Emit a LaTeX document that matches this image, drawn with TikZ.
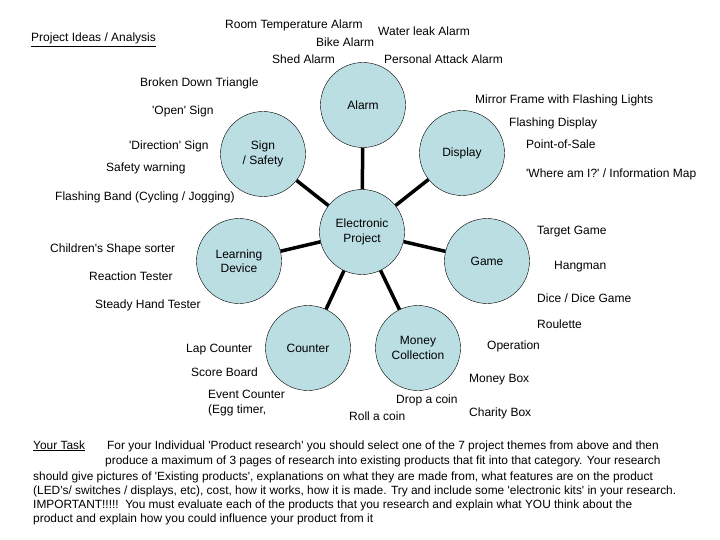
\documentclass[tikz,border=0pt]{standalone}
\usepackage{fontspec}
\setmainfont{Liberation Sans}
\usepackage{xcolor}
\definecolor{topicblue}{RGB}{187,222,227}
\newcommand{\sq}{\textquotesingle}

\begin{document}
\begin{tikzpicture}[x=1pt, y=-1pt,
  topic/.style={circle, draw, thin, fill=topicblue, minimum size=85pt, inner sep=0pt,
    align=center, font=\fontsize{12}{14.5}\selectfont},
  idea/.style={anchor=base west, inner sep=0pt, font=\fontsize{12}{14}\selectfont},
  task/.style={anchor=base west, inner sep=0pt, font=\fontsize{11.9}{14}\selectfont},
  link/.style={line width=3.5pt}]
  \useasboundingbox (0,0) rectangle (720,540);

  % Topic circles
  \node[topic] (project) at (362,232) {Electronic\\Project};
  \node[topic] (alarm) at (363,105) {Alarm};
  \node[topic] (sign) at (263,154) {Sign\\/ Safety};
  \node[topic] (display) at (462,153) {Display};
  \node[topic] (learning) at (239,261) {Learning\\Device};
  \node[topic] (game) at (487,261) {Game};
  \node[topic] (counter) at (308,348) {Counter};
  \node[topic] (money) at (418,348) {Money\\Collection};

  \draw[link] (project) -- (alarm);
  \draw[link] (project) -- (sign);
  \draw[link] (project) -- (display);
  \draw[link] (project) -- (learning);
  \draw[link] (project) -- (game);
  \draw[link] (project) -- (counter);
  \draw[link] (project) -- (money);

  % Title
  \node[idea] (title) at (31,42) {\underline{Project Ideas / Analysis}};

  % Alarm ideas
  \node[idea] (roomtemp) at (225,29) {Room Temperature Alarm};
  \node[idea] (waterleak) at (378,36) {Water leak Alarm};
  \node[idea] (bike) at (316,47) {Bike Alarm};
  \node[idea] (shed) at (272,64) {Shed Alarm};
  \node[idea] (attack) at (384,64) {Personal Attack Alarm};

  % Sign / Safety ideas
  \node[idea] (triangle) at (140,87) {Broken Down Triangle};
  \node[idea] (open) at (152,115) {\sq Open\sq{} Sign};
  \node[idea] (direction) at (129,150) {\sq Direction\sq{} Sign};
  \node[idea] (warning) at (106,172) {Safety warning};
  \node[idea] (band) at (55,201) {Flashing Band (Cycling / Jogging)};

  % Display ideas
  \node[idea] (mirror) at (475,104) {Mirror Frame with Flashing Lights};
  \node[idea] (flashing) at (509,127) {Flashing Display};
  \node[idea] (pos) at (526,149) {Point-of-Sale};
  \node[idea] (where) at (526,178) {\sq Where am I?\sq{} / Information Map};

  % Learning Device ideas
  \node[idea] (shapes) at (50,252) {Children\sq s Shape sorter};
  \node[idea] (reaction) at (89,280) {Reaction Tester};
  \node[idea] (steady) at (95,308) {Steady Hand Tester};

  % Counter ideas
  \node[idea] (lap) at (186,352) {Lap Counter};
  \node[idea] (score) at (191,376) {Score Board};
  \node[idea] (event) at (208,398) {Event Counter};
  \node[idea] (egg) at (208,413) {(Egg timer,};

  % Money Collection ideas
  \node[idea] (roll) at (349,420) {Roll a coin};
  \node[idea] (drop) at (396,403) {Drop a coin};
  \node[idea] (moneybox) at (469,382) {Money Box};
  \node[idea] (charity) at (469,416) {Charity Box};

  % Game ideas
  \node[idea] (target) at (537,235) {Target Game};
  \node[idea] (hangman) at (554,269) {Hangman};
  \node[idea] (dice) at (537,302) {Dice / Dice Game};
  \node[idea] (roulette) at (537,328) {Roulette};
  \node[idea] (operation) at (487,349) {Operation};

  % Task text
  \node[task] (yourtask) at (33,449) {\underline{Your Task}};
  \node[task] (line1) at (107,449) {For your Individual \sq Product research\sq{} you should select one of the 7 project themes from above and then};
  \node[task] (line2) at (105,464) {produce a maximum of 3 pages of research into existing products that fit into that category. Your research};
  \node[task] (line3) at (33,480) {should give pictures of \sq Existing products\sq, explanations on what they are made from, what features are on the product};
  \node[task] (line4) at (33,494) {(LED\sq s/ switches / displays, etc), cost, how it works, how it is made. Try and include some \sq electronic kits\sq{} in your research.};
  \node[task] (line5) at (33,508) {IMPORTANT!!!!!\ \ You must evaluate each of the products that you research and explain what YOU think about the};
  \node[task] (line6) at (33,522) {product and explain how you could influence your product from it};
\end{tikzpicture}
\end{document}
